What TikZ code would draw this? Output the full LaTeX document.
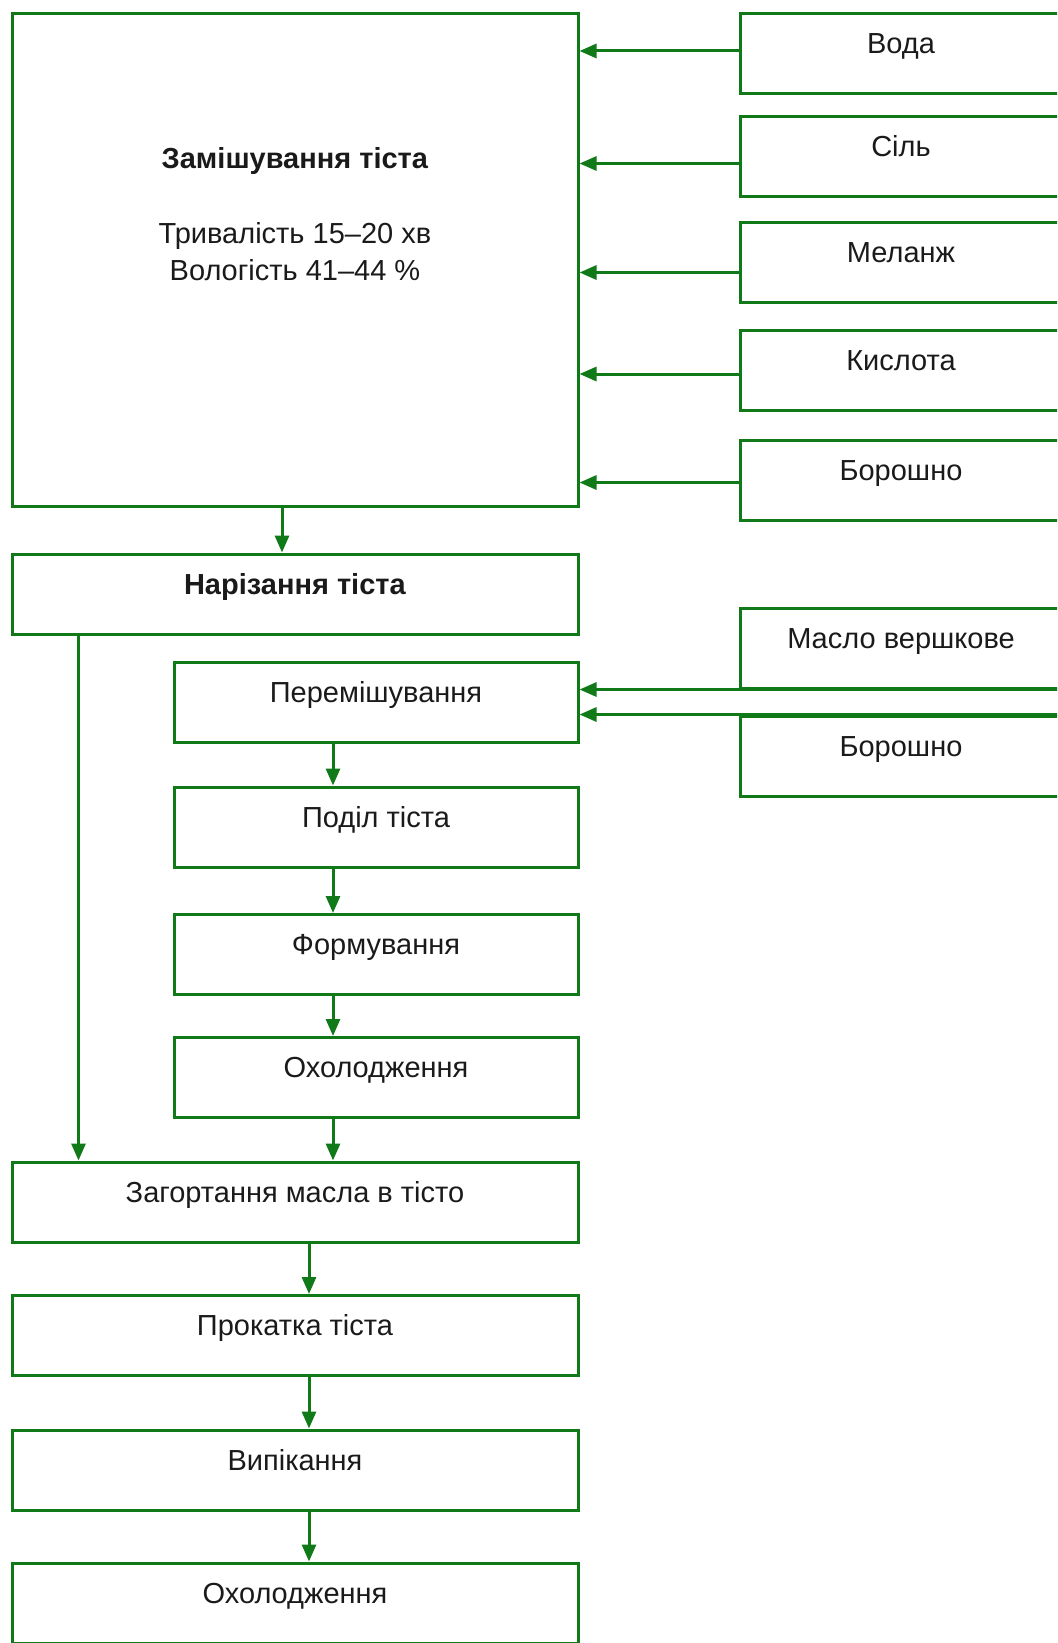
\documentclass[tikz,border=0pt]{standalone}
\usepackage{fontspec}
\setmainfont{Liberation Sans}
\usetikzlibrary{arrows.meta}
\definecolor{flow}{HTML}{107A18}
\definecolor{ink}{HTML}{1A1A1A}

\begin{document}
\begin{tikzpicture}[x=0.5pt,y=-0.5pt,
  stepbox/.style={draw=flow,line width=1.5pt,rectangle,inner sep=0pt,minimum height=40pt,
    text=ink,font=\fontsize{14.5}{17}\selectfont,text height=10pt,text depth=10pt},
  widebox/.style={stepbox,minimum width=283pt},
  subbox/.style={stepbox,minimum width=202pt},
  inbox/.style={stepbox,minimum width=161pt},
  flowarrow/.style={draw=flow,line width=1.5pt,-{Triangle[length=8.5pt,width=7pt]}}]
  \clip (0,0) rectangle (1057,1643);

  % Kneading and its ingredients
  \node[widebox,minimum height=246pt] (mix) at (295,260) {};
  \node[text=ink,align=center,anchor=north,inner sep=0pt,font=\fontsize{14.5}{18.5}\selectfont] (mixtext) at (295,147)
    {\textbf{Замішування тіста}\\[19pt]Тривалість 15–20 хв\\Вологість 41–44 \%};
  \node[inbox] (voda) at (901,54) {Вода};
  \node[inbox] (sil) at (901,156.5) {Сіль};
  \node[inbox] (melanzh) at (901,262.5) {Меланж};
  \node[inbox] (kyslota) at (901,370) {Кислота};
  \node[inbox] (boroshno) at (901,480.5) {Борошно};
  \foreach \src/\dy in {voda/1.5pt,sil/-3.5pt,melanzh/-5pt,kyslota/-2pt,boroshno/-1pt}
    \draw[flowarrow] ([yshift=\dy]\src.west) -- ([yshift=\dy]\src.west -| mix.east);

  % Cutting
  \node[widebox] (narizannia) at (295,594) {\textbf{Нарізання тіста}};
  \draw[flowarrow] ([xshift=-6.5pt]mix.south) -- ([xshift=-6.5pt]mix.south |- narizannia.north);

  % Butter branch
  \node[inbox] (maslo) at (901,648) {Масло вершкове};
  \node[inbox] (boroshnob) at (901,756) {Борошно};
  \node[subbox] (peremish) at (376,702) {Перемішування};
  \node[subbox] (podil) at (376,827) {Поділ тіста};
  \node[subbox] (formuv) at (376,954.5) {Формування};
  \node[subbox] (okholodzh) at (376,1077.5) {Охолодження};
  \draw[flowarrow] (maslo.south east) -- (maslo.south east -| peremish.east);
  \draw[flowarrow] (boroshnob.north east) -- (boroshnob.north east -| peremish.east);

  % Main line
  \node[widebox] (zahort) at (295,1202) {Загортання масла в тісто};
  \node[widebox] (prokatka) at (295,1335.5) {Прокатка тіста};
  \node[widebox] (vypik) at (295,1470) {Випікання};
  \node[widebox] (okholodzhb) at (295,1603) {Охолодження};
  \draw[flowarrow] ([xshift=34pt]narizannia.south west) -- ([xshift=34pt]narizannia.south west |- zahort.north);

  \foreach \a/\b in {peremish/podil,podil/formuv,formuv/okholodzh,okholodzh/zahort}
    \draw[flowarrow] ([xshift=-21.5pt]\a.south) -- ([xshift=-21.5pt]\a.south |- \b.north);
  \foreach \a/\b in {zahort/prokatka,prokatka/vypik,vypik/okholodzhb}
    \draw[flowarrow] ([xshift=7pt]\a.south) -- ([xshift=7pt]\a.south |- \b.north);
\end{tikzpicture}
\end{document}
